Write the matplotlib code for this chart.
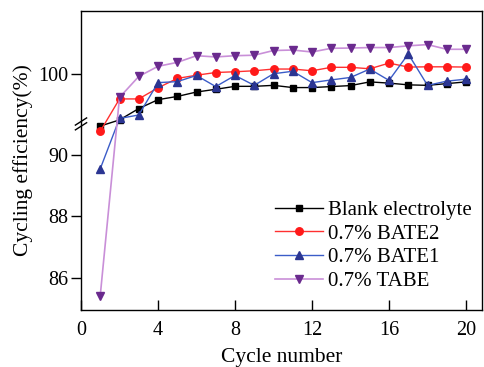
import numpy as np
import matplotlib
matplotlib.use("Agg")
import matplotlib.pyplot as plt

cycles = np.arange(1, 21)

blank = [90.93, 98.16, 98.62, 98.98, 99.11, 99.29, 99.40, 99.52, 99.52, 99.56,
         99.47, 99.47, 99.51, 99.55, 99.70, 99.65, 99.58, 99.56, 99.63, 99.70]
bate2 = [90.76, 99.01, 99.01, 99.46, 99.84, 99.97, 100.08, 100.11, 100.15, 100.22,
         100.22, 100.15, 100.29, 100.29, 100.23, 100.46, 100.30, 100.31, 100.31, 100.30]
bate1 = [89.54, 98.22, 98.36, 99.67, 99.71, 99.96, 99.51, 99.96, 99.56, 100.03,
         100.13, 99.67, 99.78, 99.88, 100.22, 99.76, 100.83, 99.56, 99.73, 99.81]
tabe = [85.42, 99.07, 99.92, 100.33, 100.49, 100.76, 100.71, 100.76, 100.78, 100.97,
        100.99, 100.91, 101.06, 101.07, 101.09, 101.09, 101.16, 101.21, 101.02, 101.02]

labels = ["Blank electrolyte", "0.7% BATE2", "0.7% BATE1", "0.7% TABE"]

# broken axis: 85-91 kept, 91-98 squeezed out, above 98 compressed
brk_v = [70, 91, 98, 120]
brk_d = [70, 91, 91.001, 91.001 + 22 * 0.803]


def fwd(v):
    return np.interp(v, brk_v, brk_d)


def inv(d):
    return np.interp(d, brk_d, brk_v)


plt.rcParams['font.family'] = ['Liberation Serif', 'DejaVu Serif']

fig = plt.figure(figsize=(4.84, 3.67), dpi=100)
ax = fig.add_axes([81 / 484, 57 / 367, 401 / 484, 299 / 367])
ax.set_yscale('function', functions=(fwd, inv))

ax.plot(cycles, blank, color='black', lw=1.0, marker='s', ms=4.6, mfc='black', mec='black', label=labels[0])
ax.plot(cycles, bate2, color='#ff3030', lw=1.0, marker='o', ms=5.4, mfc='#ff1a1a', mec='#ff1a1a', label=labels[1])
ax.plot(cycles, bate1, color='#3b5cc8', lw=1.0, marker='^', ms=6, mfc='#2b3592', mec='#2b3592', label=labels[2])
ax.plot(cycles, tabe, color='#c98fd8', lw=1.2, marker='v', ms=6, mfc='#6a2a8e', mec='#6a2a8e', label=labels[3])

y0, y1 = 84.95, 102.57
ax.set_xlim(0, 20.83)
ax.set_ylim(y0, y1)
ax.set_xticks([0, 4, 8, 12, 16, 20])
ax.set_yticks([86, 88, 90, 100])
ax.set_yticklabels(['86', '88', '90', '100'])
ax.minorticks_off()
ax.tick_params(axis='x', direction='in', length=7, width=1, labelsize=14.5, pad=8)
ax.tick_params(axis='y', direction='out', length=7, width=1, labelsize=14.5, pad=2)
for s in ax.spines.values():
    s.set_linewidth(1.0)

ax.set_xlabel("Cycle number", fontsize=15.5, labelpad=6)
ax.set_ylabel("Cycling efficiency(%)", fontsize=15.5, labelpad=4)

# break marks on the left spine
fb = (fwd(91.0005) - fwd(y0)) / (fwd(y1) - fwd(y0))
for dy in (-0.008, 0.008):
    ax.plot([-0.014, 0.014], [fb + dy - 0.012, fb + dy + 0.012], transform=ax.transAxes,
            color='black', lw=1.0, clip_on=False)

ax.legend(loc='lower right', bbox_to_anchor=(1.0 + 9 / 401, 0.0), frameon=False, fontsize=15,
          handlelength=2.3, handletextpad=0.25, labelspacing=0.2, borderaxespad=0.5,
          borderpad=0.4)

fig.savefig("out.png", dpi=100)
